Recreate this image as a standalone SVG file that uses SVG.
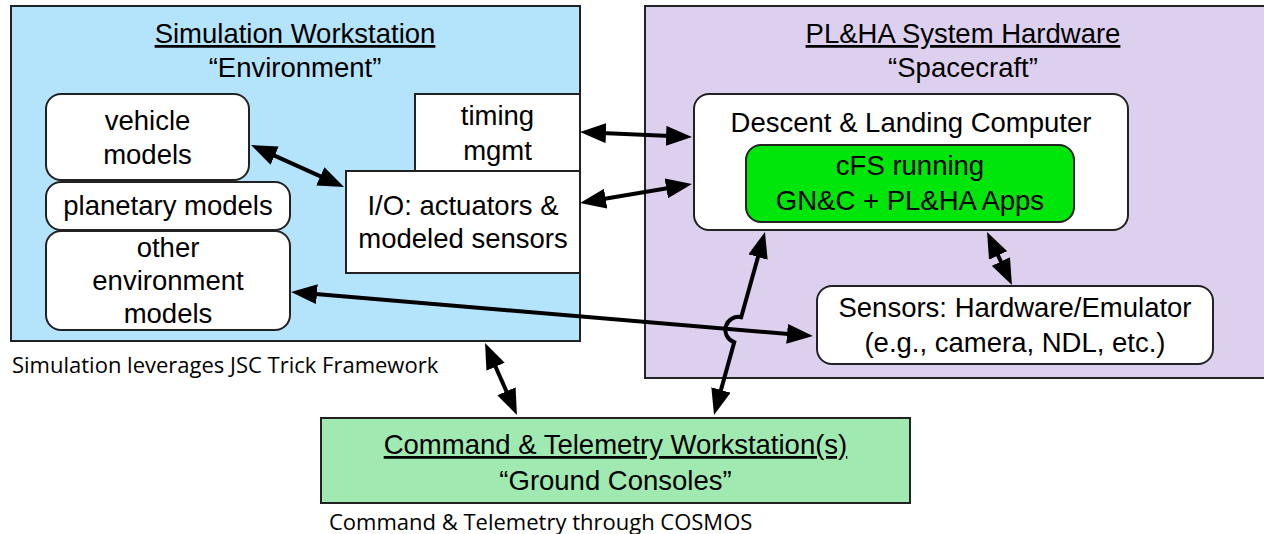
<svg xmlns="http://www.w3.org/2000/svg" width="1264" height="534" viewBox="0 0 1264 534">
<defs>
<marker id="arr" viewBox="0 0 26 20" refX="16" refY="10" markerWidth="26" markerHeight="20" markerUnits="userSpaceOnUse" orient="auto-start-reverse">
<path d="M0,0 L26,10 L0,20 z" fill="#000"/>
</marker>
<style>
.box{stroke:#222;stroke-width:2}
.t{font-family:"Liberation Sans",Arial,sans-serif;font-size:27.5px;fill:#000;text-anchor:middle}
.cap{font-family:"Open Sans","Liberation Sans",sans-serif;font-size:22px;fill:#000}
.c{fill:none;stroke:#000;stroke-width:4;marker-start:url(#arr);marker-end:url(#arr)}
</style>
</defs>
<rect width="1264" height="534" fill="#fff"/>

<g id="sim-workstation">
<rect class="box" x="11" y="6" width="569" height="335" fill="#B4E3FC"/>
<text class="t" x="295" y="43" text-decoration="underline">Simulation Workstation</text>
<text class="t" x="295" y="77">“Environment”</text>
</g>

<g id="plha-hardware">
<rect class="box" x="645" y="6" width="625" height="372" fill="#DDD0EE"/>
<text class="t" x="963" y="43" text-decoration="underline">PL&amp;HA System Hardware</text>
<text class="t" x="963" y="77">“Spacecraft”</text>
</g>

<g id="vehicle-models">
<rect class="box" x="46" y="94" width="203" height="86" rx="15" fill="#fff"/>
<text class="t" x="147.5" y="130">vehicle</text>
<text class="t" x="147.5" y="164">models</text>
</g>

<g id="planetary-models">
<rect class="box" x="46" y="182" width="244" height="48" rx="15" fill="#fff"/>
<text class="t" x="168" y="215">planetary models</text>
</g>

<g id="other-models">
<rect class="box" x="46" y="231" width="244" height="99" rx="15" fill="#fff"/>
<text class="t" x="168" y="257">other</text>
<text class="t" x="168" y="290">environment</text>
<text class="t" x="168" y="323">models</text>
</g>

<g id="timing-mgmt">
<rect class="box" x="415" y="94" width="165" height="77" fill="#fff"/>
<text class="t" x="497.5" y="125">timing</text>
<text class="t" x="497.5" y="160">mgmt</text>
</g>

<g id="io">
<rect class="box" x="346" y="171" width="234" height="102" fill="#fff"/>
<text class="t" x="463" y="215">I/O: actuators &amp;</text>
<text class="t" x="463" y="248">modeled sensors</text>
</g>

<g id="dlc">
<rect class="box" x="694" y="94" width="434" height="136" rx="15" fill="#fff"/>
<text class="t" x="911" y="132">Descent &amp; Landing Computer</text>
</g>

<g id="cfs">
<rect class="box" x="746" y="145" width="328" height="77" rx="15" fill="#00E60A"/>
<text class="t" x="910" y="175">cFS running</text>
<text class="t" x="910" y="210">GN&amp;C + PL&amp;HA Apps</text>
</g>

<g id="sensors">
<rect class="box" x="817" y="286" width="396" height="78" rx="15" fill="#fff"/>
<text class="t" x="1015" y="317">Sensors: Hardware/Emulator</text>
<text class="t" x="1015" y="352">(e.g., camera, NDL, etc.)</text>
</g>

<g id="ground">
<rect class="box" x="321" y="418" width="589" height="85" fill="#A0E9B1"/>
<text class="t" x="615.5" y="454" text-decoration="underline">Command &amp; Telemetry Workstation(s)</text>
<text class="t" x="615.5" y="490">“Ground Consoles”</text>
</g>

<g id="captions">
<text class="cap" x="12" y="373">Simulation leverages JSC Trick Framework</text>
<text class="cap" x="329" y="530">Command &amp; Telemetry through COSMOS</text>
</g>

<g id="connectors">
<path class="c" d="M260.1,149.1 L334.9,182.9"/>
<path class="c" d="M590,132.4 L682,136.6"/>
<path class="c" d="M589.9,201.3 L682.1,185.7"/>
<path class="c" d="M991.3,241 L1007.7,276"/>
<path class="c" d="M301,292.8 L803,335.2"/>
<path class="c" d="M489.1,352.1 L512.9,405.9"/>
<path class="c" d="M762.3,241.6 L741.2,317.2 A13,13 0 0 0 734.2,342.2 L716.7,405.4"/>
</g>
</svg>
